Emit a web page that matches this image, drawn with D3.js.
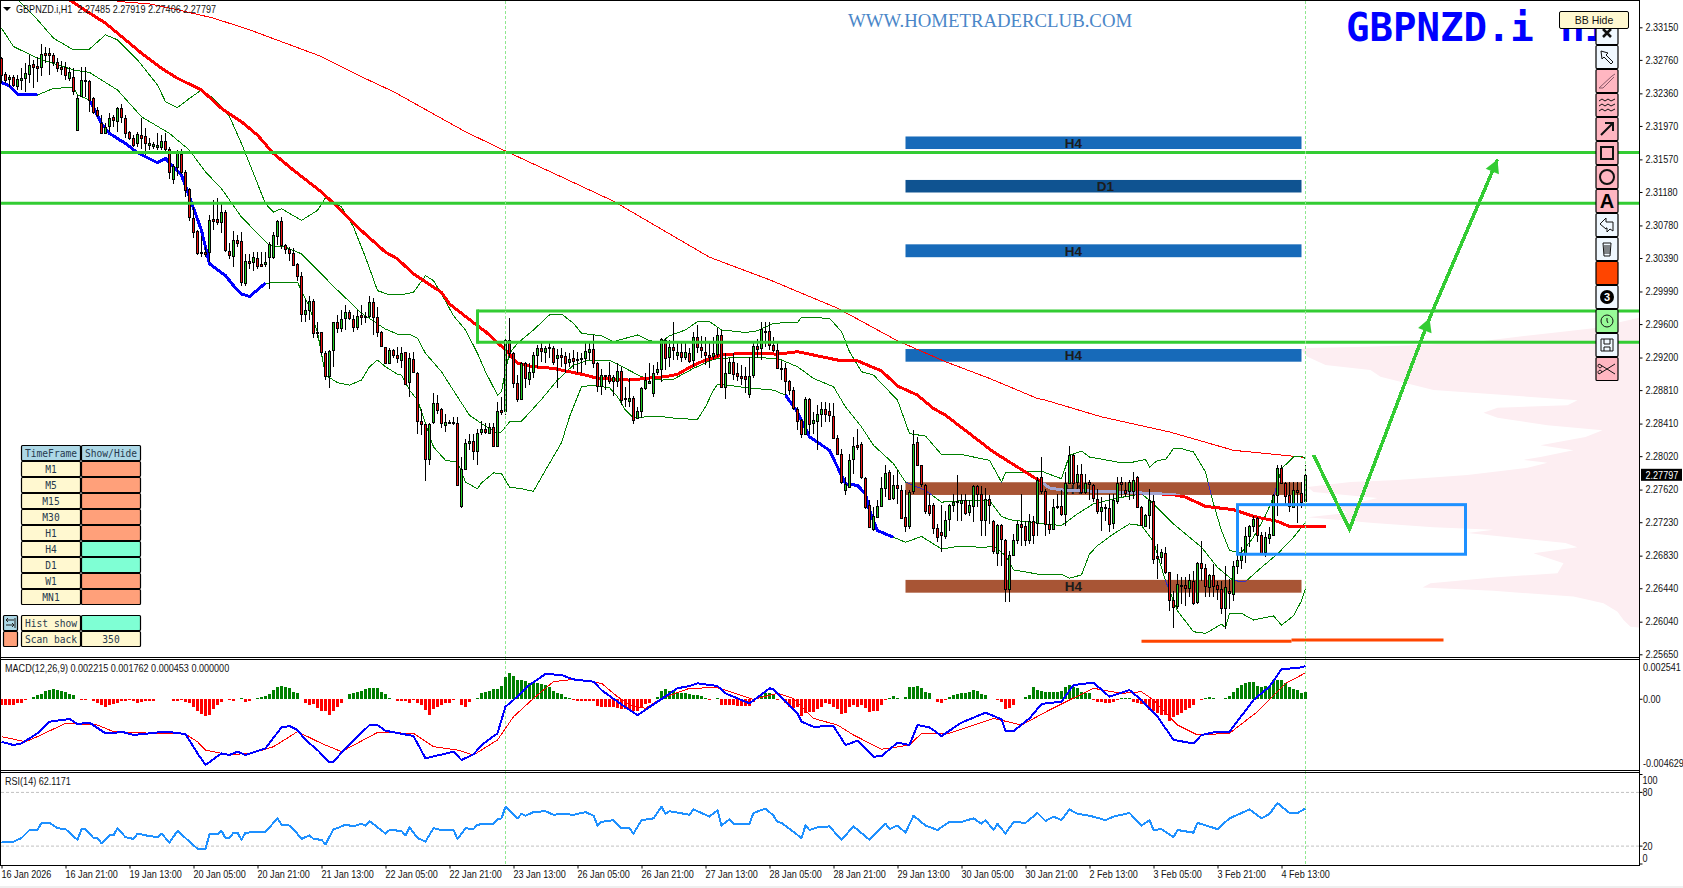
<!DOCTYPE html>
<html>
<head>
<meta charset="utf-8">
<title>GBPNZD.i H1</title>
<script src="https://cdn.jsdelivr.net/npm/d3@7/dist/d3.min.js"></script>
<style>
    html, body { margin: 0; padding: 0; background: #fff; overflow: hidden; }
    text { font-family: "Liberation Sans", sans-serif; font-size: 10.3px; fill: #111; white-space: pre; }
    .mono { font-family: "DejaVu Sans Mono", monospace; font-size: 9.6px; fill: #26394d; }
    .domain { stroke: #000; }
    .tick line { stroke: #000; }
</style>
</head>
<body>
<svg id="chart" width="1683" height="888"></svg>
<script>
// Prices below are kept as (price - 2.2) * 10000
const barOpen = [
    1278,1259,1253,1255,1245,1252,1254,1259,1271,1269,
    1268,1284,1284,1282,1274,1268,1267,1254,1255,1193,
    1233,1252,1251,1230,1216,1201,1189,1196,1208,1203,
    1218,1207,1190,1183,1176,1186,1185,1175,1174,1172,
    1172,1179,1170,1134,1148,1163,1142,1121,1087,1071,
    1046,1046,1046,1086,1086,1082,1094,1047,1042,1061,
    1059,1010,1036,1034,1039,1032,1032,1041,1040,1065,
    1083,1055,1050,1045,1032,1018,972,977,988,950,
    950,926,898,929,962,955,967,974,966,957,
    971,970,969,986,968,950,932,913,929,923,
    918,927,890,918,902,844,841,799,842,865,
    858,840,843,843,842,743,787,818,820,808,
    831,834,830,837,814,857,856,941,925,889,
    870,913,895,903,923,931,926,932,931,920,
    923,922,915,919,918,919,920,927,930,913,
    886,899,899,892,892,904,871,868,872,848,
    855,883,890,878,902,906,941,921,932,923,
    927,921,925,916,944,932,927,923,922,924,
    947,885,902,915,901,898,898,876,899,934,
    931,952,952,935,929,907,907,892,881,859,
    845,828,870,841,844,852,858,856,850,824,
    804,762,766,798,815,816,776,743,715,729,
    743,764,783,751,767,762,729,718,760,819,
    791,767,744,744,716,711,707,726,744,747,
    745,749,735,742,766,757,726,751,724,687,
    720,702,643,684,702,721,718,701,724,722,
    777,760,721,715,741,742,733,770,803,771,
    781,759,771,767,751,736,741,740,722,749,
    771,762,760,761,777,741,719,731,748,682,
    681,686,663,630,623,647,648,644,653,627,
    674,668,646,660,648,643,620,641,638,671,
    678,685,707,719,728,708,687,704,708,756,
    788,770,755,742,761,758,748.5
];
const barHigh = [
    1280,1262,1258,1258,1258,1266,1272,1282,1276,1279,
    1295,1291,1290,1284,1278,1275,1273,1268,1266,1234,
    1267,1268,1252,1232,1220,1210,1201,1212,1210,1220,
    1223,1210,1191,1186,1190,1206,1194,1183,1178,1188,
    1186,1189,1172,1152,1168,1170,1144,1123,1100,1072,
    1065,1052,1090,1108,1111,1104,1096,1057,1071,1066,
    1070,1044,1044,1046,1046,1046,1046,1058,1070,1084,
    1088,1056,1052,1051,1033,1022,990,994,990,962,
    951,928,929,963,971,977,983,977,971,977,
    983,975,993,991,981,952,933,931,930,933,
    933,927,925,927,903,859,841,842,878,875,
    860,853,845,849,849,801,823,829,829,835,
    844,842,842,842,867,873,946,967,927,899,
    915,915,913,927,935,940,934,938,934,930,
    931,927,925,929,927,926,938,937,947,915,
    906,899,915,899,913,909,885,895,874,861,
    885,901,913,911,915,943,943,941,962,937,
    937,937,931,950,959,946,944,937,945,955,
    953,925,919,925,913,911,909,921,939,942,
    962,962,962,945,939,916,913,893,885,861,
    847,873,871,855,863,867,867,866,866,827,
    810,777,805,825,835,819,777,750,741,749,
    777,791,785,779,786,767,761,762,833,825,
    792,769,757,746,721,744,737,745,757,779,
    757,757,749,768,768,766,764,755,726,721,
    721,703,689,709,725,757,725,733,731,777,
    801,763,737,751,757,761,783,814,805,791,
    793,781,773,769,763,753,745,757,757,777,
    777,771,773,783,778,742,733,763,755,697,
    691,693,664,641,661,657,657,661,665,676,
    701,673,661,673,653,653,671,655,677,689,
    693,717,720,731,729,711,711,717,757,791,
    792,771,771,771,771,771,791.9
];
const barLow = [
    1248,1248,1244,1243,1240,1240,1238,1248,1242,1250,
    1257,1272,1258,1269,1262,1258,1252,1251,1234,1192,
    1232,1232,1214,1211,1208,1187,1187,1190,1196,1190,
    1200,1182,1180,1172,1172,1170,1162,1168,1170,1168,
    1168,1166,1134,1127,1137,1140,1112,1083,1063,1043,
    1040,1040,1034,1072,1078,1069,1046,1038,1028,1052,
    1006,1005,1026,1024,1026,1028,1028,1002,1038,1054,
    1050,1044,1036,1030,1012,963,963,965,943,943,
    923,893,884,909,949,950,953,965,951,953,
    959,961,967,947,945,932,912,912,920,913,
    907,887,873,901,829,827,772,792,840,853,
    836,831,840,839,767,740,787,809,797,792,
    827,828,828,813,814,851,851,919,883,867,
    869,884,887,895,907,915,913,919,911,883,
    909,901,909,906,901,901,911,917,907,879,
    875,881,888,874,885,863,861,861,841,847,
    848,881,888,873,899,891,905,909,917,917,
    915,917,913,909,925,919,911,907,917,921,
    884,870,901,893,892,887,877,871,895,919,
    917,933,929,927,906,893,875,875,857,833,
    824,827,829,829,809,837,843,843,823,803,
    769,756,765,781,809,775,739,716,713,728,
    742,753,749,749,745,728,711,715,757,790,
    765,733,731,709,699,687,703,713,735,725,
    725,732,730,723,741,707,707,721,685,671,
    671,627,628,682,697,695,695,697,697,707,
    757,706,709,714,739,731,719,769,768,763,
    757,757,749,747,733,713,725,711,715,745,
    753,753,749,751,740,718,718,715,673,655,
    673,661,617,597,619,625,623,633,624,625,
    653,633,633,633,630,613,595,619,629,661,
    667,674,693,711,699,685,681,697,707,731,
    769,742,735,741,722,740,740.6
];
const barClose = [
    1258,1252,1255,1246,1253,1254,1260,1270,1267,1267,
    1283,1282,1282,1274,1267,1266,1257,1261,1238,1231,
    1252,1251,1228,1213,1210,1189,1196,1206,1204,1218,
    1207,1189,1183,1175,1187,1183,1177,1177,1176,1174,
    1179,1170,1143,1149,1166,1142,1121,1087,1070,1045,
    1045,1044,1084,1084,1082,1094,1048,1042,1061,1057,
    1010,1036,1034,1040,1030,1030,1034,1056,1066,1083,
    1054,1050,1045,1031,1018,973,977,988,950,949,
    926,898,928,962,955,966,974,967,957,970,
    969,969,986,968,950,933,913,929,923,919,
    926,889,919,902,844,841,799,841,865,857,
    841,843,842,842,768,787,818,820,808,830,
    834,830,837,814,856,855,941,925,889,870,
    913,895,903,923,931,927,931,931,914,923,
    921,914,918,915,918,918,928,930,913,886,
    899,898,892,897,904,869,870,872,846,856,
    883,893,892,902,906,942,919,933,928,927,
    921,927,916,944,932,928,923,921,926,947,
    885,902,915,901,898,896,895,898,934,931,
    954,951,935,929,907,906,892,881,859,845,
    828,870,840,845,852,858,852,851,824,805,
    771,769,798,814,813,777,741,717,730,742,
    764,782,751,767,763,729,718,759,816,791,
    768,736,735,716,705,708,726,743,747,748,
    749,734,743,766,757,726,751,744,688,720,
    703,643,684,702,721,717,701,724,707,773,
    760,721,715,741,742,732,770,803,770,781,
    759,770,769,751,737,741,740,721,749,770,
    769,759,771,774,741,719,732,749,679,680,
    687,663,629,622,649,648,644,654,627,674,
    668,647,660,647,643,620,645,639,671,678,
    685,707,719,727,708,686,705,709,756,788,
    770,755,742,762,759,747,779.7
];

// Moving averages and bands, read at the marked bars
const ma200Bars = [29,37,44,53,62,71,80,89,98,107,116,126,140,153,177,192,209,224,236,247,259,261,275,292,308,325,326];
const ma200Vals = [1346,1343,1336,1326,1312,1296,1280,1258,1238,1214,1190,1167,1136,1107,1040,1013,979,940,915,895,871,869,849,831,809,801,800];
const ma50Bars = [17,22,26,31,35,40,44,50,55,60,64,68,73,80,84,89,96,99,103,110,112,119,121,126,129,133,138,141,146,149,157,161,166,169,172,175,180,185,190,194,199,205,209,214,220,224,229,233,236,242,248,259,260,262,266,275,285,293,296,301,308,313,319,322,331];
const ma50Vals = [1348,1332,1320,1300,1284,1266,1254,1240,1218,1202,1186,1164,1144,1118,1100,1076,1046,1038,1020,998,984,958,951,929,913,909,907,904,899,895,893,895,897,900,908,915,923,925,925,924,927,921,917,916,904,886,875,859,851,829,807,774,771,764,761,760,758,756,753,742,738,730,724,718,718];
const upperBars = [4,9,13,18,22,26,29,34,39,41,44,47,50,53,57,60,63,66,68,70,75,79,81,85,88,91,94,97,100,103,106,108,110,113,116,119,121,124,125,126,127,129,133,137,140,143,145,150,153,159,162,165,167,171,174,177,180,186,189,193,199,200,207,210,212,215,218,220,224,227,231,235,240,247,250,251,255,260,265,267,270,272,279,283,286,287,289,291,293,295,298,301,303,305,307,310,313,316,318,320,323,325,326];
const upperVals = [1348,1324,1302,1288,1289,1306,1300,1276,1246,1226,1219,1230,1240,1230,1208,1176,1140,1104,1094,1098,1084,1096,1111,1100,1076,1040,1000,995,995,998,1018,1012,996,970,953,925,903,875,879,905,925,937,953,971,972,961,949,946,939,947,940,939,946,953,963,963,953,950,952,961,962,968,967,951,927,903,899,889,869,829,826,804,804,797,771,782,783,784,775,803,808,801,795,795,798,789,797,798,811,811,807,783,745,713,689,687,705,731,753,787,801,802,799];
const midBars = [0,3,9,18,22,29,35,42,47,51,55,60,67,71,75,80,83,85,90,96,99,102,104,106,110,114,117,120,124,125,127,130,132,135,139,143,147,152,156,160,165,168,173,178,183,187,194,199,203,208,211,215,218,223,226,231,235,241,247,250,252,259,265,269,273,278,285,288,293,300,304,308,311,315,319,323,326];
const midVals = [1314,1292,1278,1264,1261,1240,1208,1188,1168,1142,1122,1088,1054,1052,1044,1020,1005,996,973,954,948,948,943,925,903,873,851,841,829,831,843,844,854,870,893,911,917,917,907,897,893,894,907,918,920,920,919,909,895,885,861,837,815,793,771,761,747,749,749,730,726,722,719,733,745,751,757,745,721,693,669,653,652,669,685,705,723];
const lowerBars = [0,2,4,9,13,18,19,22,25,27,31,34,39,41,45,47,50,52,56,58,60,62,66,74,75,77,79,81,84,87,90,92,94,96,99,100,102,104,108,111,114,116,119,120,123,125,127,130,133,135,140,142,145,148,150,152,154,156,158,164,169,174,176,178,179,183,186,193,196,199,202,207,209,211,214,216,217,219,223,226,230,235,239,246,248,251,253,259,265,267,270,272,274,278,282,285,288,291,294,298,301,305,306,307,310,313,318,320,323,325,326];
const lowerVals = [1249,1245,1235,1234,1242,1243,1234,1228,1200,1188,1176,1165,1153,1158,1138,1112,1072,1032,1018,1006,996,993,1009,1010,1000,980,950,899,890,887,893,909,917,909,900,899,881,869,813,797,795,771,763,770,782,781,765,763,760,777,818,849,885,887,885,884,873,857,848,850,847,846,861,881,888,886,884,881,875,855,825,809,789,769,767,757,737,713,705,699,706,691,694,693,695,683,666,661,661,656,660,685,695,709,721,719,700,653,617,592,590,601,597,614,614,606,611,600,611,629,644];
const lowerBlueSpans = [[0, 9], [22, 66], [196, 223]];

// Drawn objects on the main chart
const zoneTop = [1184.4, 1132.4, 1055.4, 930.2, 770.8, 654];
const zoneBottom = [1169.4, 1117.4, 1040, 915, 755.6, 638.7];
const zoneName = ['H4', 'D1', 'H4', 'H4', 'H4', 'H4'];
const zoneKind = ['blue', 'navy', 'blue', 'blue', 'brown', 'brown'];
const zoneLabelBar = [268, 276, 268, 268, 268, 268];
const greenLevels = [1165.3, 1104.5];
const greenBoxLevels = [975.7, 938.2];
const blueBoxLevels = [744, 684.7];
const lowLineBars = [285, 322.5, 360.5];
const lowLineVals = [580.6, 582.2];
const arrowBars = [328, 337, 357, 374];
const arrowVals = [803.4, 714.6, 966.9, 1157];

// Volume profile on the right side
const profileLevel = [967.6,955,947,939,935,933,931.4,930,921,911,905,897,881,869,863,860,854,848,839,833,825,815,809,801,797.5,794,788,779.5,773.5,771,765,759,752,741,734,729,722,717,714,710,698,693,686,674,662,657,650,645,641,634,626,616,606,598,597];
const profileVolume = [0,46,106,162,219,272,332,339,332,314,269,259,206,62,72,142,156,142,92,37,54,99,66,99,116,92,112,172,242,289,332,326,262,302,292,332,266,206,146,172,74,62,106,76,82,146,209,217,146,66,36,22,16,9,0];

// MACD values are in 1e-5 units
const macdHist = [
    -37,-37,-37,-37,-26,-22,-4,2,18,26,
    37,57,64,66,62,57,51,37,29,4,
    -7,-4,2,-9,-26,-37,-48,-37,-33,-22,
    -11,-11,-4,-11,-22,-15,-11,-9,-9,2,
    4,4,2,-11,-11,-4,-15,-26,-48,-81,
    -99,-108,-103,-66,-37,-15,1,-4,-9,1,
    11,-15,-9,1,11,18,24,35,62,84,
    88,79,77,51,44,2,-26,-37,-33,-59,
    -75,-81,-103,-81,-48,-22,1,35,44,51,
    57,66,73,75,75,51,35,7,1,-9,
    -9,-9,-22,-4,-22,-37,-70,-103,-66,-48,
    -37,-26,-26,-4,1,-37,-48,-15,1,7,
    40,51,57,66,66,88,145,176,154,128,
    128,123,106,106,110,101,92,84,57,44,
    35,18,7,-4,-9,-9,-9,-9,-9,-44,
    -48,-53,-53,-53,-59,-66,-66,-70,-75,-81,
    -53,-33,-26,1,18,57,66,57,55,44,
    40,40,35,29,29,24,7,-4,1,7,
    -37,-37,-37,-37,-42,-42,-42,-44,-20,1,
    22,44,40,35,-4,1,-26,-53,-59,-53,
    -110,-92,-86,-84,-66,-48,-26,-31,-48,-66,
    -97,-92,-53,-37,-53,-37,-59,-84,-81,-75,
    -37,-2,7,22,11,1,18,79,84,88,
    77,51,44,1,-15,-22,-4,18,29,35,
    40,40,51,62,55,33,29,1,1,-4,
    -15,-62,-59,-37,1,4,13,29,79,62,
    57,51,51,51,51,57,84,95,84,73,
    51,40,40,-4,-15,-15,-26,-26,-20,-4,
    7,7,11,-15,-26,-31,-31,-70,-81,-92,
    -103,-103,-141,-119,-103,-88,-70,-59,-37,1,
    -2,7,15,11,2,1,11,22,51,73,
    95,110,117,114,88,81,88,84,128,128,
    128,106,80,70,62,40,45
];
const macdMainBars = [0,3,5,9,12,17,19,22,26,28,30,33,41,46,49,51,55,57,59,61,66,70,72,74,76,79,82,83,86,92,94,96,103,106,113,115,118,120,124,126,128,132,136,140,143,148,150,154,159,164,169,172,174,179,181,187,192,193,199,200,203,208,211,214,218,220,224,227,229,232,235,240,246,250,251,253,257,260,265,268,273,277,282,285,289,293,298,300,304,307,313,317,320,325,326];
const macdMainVals = [-282,-304,-293,-226,-149,-131,-164,-155,-226,-226,-215,-237,-215,-231,-359,-436,-359,-370,-348,-370,-326,-186,-178,-204,-270,-337,-419,-414,-326,-171,-171,-209,-244,-392,-348,-403,-366,-304,-226,-49,-5,95,168,161,132,117,61,-16,-105,-16,73,88,106,88,39,-27,73,66,-93,-149,-182,-178,-304,-275,-381,-377,-288,-304,-171,-186,-244,-155,-89,-133,-211,-211,-127,-31,-16,95,110,17,61,-5,-115,-270,-293,-237,-215,-215,-5,84,199,212,221];
const macdSignalBars = [0,6,9,16,24,28,38,46,49,51,57,63,68,74,80,85,94,103,108,114,118,124,128,133,138,143,150,154,157,161,165,172,179,188,194,198,203,209,213,220,227,230,237,248,255,262,267,273,280,285,288,294,299,307,314,321,325,326];
const macdSignalVals = [-248,-282,-248,-160,-171,-215,-226,-231,-282,-337,-370,-355,-315,-215,-293,-348,-220,-226,-315,-337,-370,-270,-116,6,117,132,106,17,-38,-60,6,73,77,-1,39,6,-127,-171,-237,-332,-304,-226,-226,-127,-171,-71,-5,73,39,50,-5,-171,-237,-226,-82,106,161,176];
const macdAxisLabels = ['0.002541', '0.00', '-0.004629'];

const rsiBars = [0,3,5,7,9,10,12,14,16,17,19,20,21,23,24,25,27,28,29,31,33,34,36,39,40,42,44,47,49,51,52,54,55,56,57,58,59,60,61,66,69,70,72,73,75,77,78,80,81,83,84,86,88,90,91,92,96,97,100,101,102,104,106,108,110,113,114,116,118,119,123,124,125,126,127,129,130,131,133,136,138,140,143,146,148,149,150,153,155,157,158,160,163,165,166,167,172,173,175,177,179,180,182,183,187,188,191,193,194,195,200,201,202,204,207,210,213,217,221,222,224,226,228,231,234,237,240,243,245,246,248,249,251,253,256,259,261,263,265,267,269,272,276,278,280,282,285,287,288,290,293,294,298,299,304,307,312,315,317,319,322,324,326];
const rsiVals = [24,25,29,38,38,46,46,40,39,35,27,39,39,29,29,23,32,32,40,30,28,34,32,30,34,24,37,25,17,17,33,33,37,29,29,35,35,27,35,36,51,44,43,39,28,32,28,27,22,39,40,44,42,45,43,48,34,38,37,32,41,29,25,40,38,38,28,40,39,44,45,50,51,64,60,51,56,54,58,59,55,56,55,58,54,43,47,49,40,40,34,49,51,64,56,59,55,61,57,53,60,43,50,45,45,57,62,54,47,46,29,43,38,41,42,27,42,27,45,39,43,35,54,43,38,47,47,51,45,49,38,45,34,47,46,57,48,53,49,61,56,54,49,53,55,57,43,49,38,39,30,38,35,46,39,51,61,51,56,68,57,57,62];
const rsiLevels = [80, 20];
const rsiAxisLabels = [100, 80, 20, 0];

// Axis labels
const priceTicks = [2.3315,2.3276,2.3236,2.3197,2.3157,2.3118,2.3078,2.3039,2.2999,2.2960,2.2920,2.2881,2.2841,2.2802,2.2762,2.2723,2.2683,2.2644,2.2604,2.2565];
const lastPrice = 2.27797;
const timeLabels = ['16 Jan 2026','16 Jan 21:00','19 Jan 13:00','20 Jan 05:00','20 Jan 21:00','21 Jan 13:00','22 Jan 05:00','22 Jan 21:00','23 Jan 13:00','26 Jan 05:00','26 Jan 21:00','27 Jan 13:00','28 Jan 05:00','28 Jan 21:00','29 Jan 13:00','30 Jan 05:00','30 Jan 21:00','2 Feb 13:00','3 Feb 05:00','3 Feb 21:00','4 Feb 13:00'];
const timeBarStep = 16;
const sessionBars = [126, 326];

// Timeframe panel
const panelFrames = ['M1','M5','M15','M30','H1','H4','D1','W1','MN1'];
const panelShown = [0,0,0,0,0,1,1,0,0];
const toolKinds = ['close','cursor','pencil','waves','arrow','square','circle','letter','undo','trash','color','number','clock','save','scissors'];

const toPrice = v => 2.2 + v / 10000;
const plotRight = 1639.5;

const svg = d3.select('#chart');
svg.append('rect').attr('width', 1683).attr('height', 888).attr('fill', '#fff');
svg.append('rect').attr('y', 886).attr('width', 1683).attr('height', 2).attr('fill', '#efefef');

const xBar = d3.scaleLinear().domain([0, 326]).range([1.5, 1305.5]);
const yPrice = d3.scaleLinear().domain([2.3315, 2.2565]).range([27.3, 654.3]);
const yMacd = d3.scaleLinear().domain([-462.9, 254.1]).range([769, 661]);
const yRsi = d3.scaleLinear().domain([0, 100]).range([864, 774.5]);
const xProfile = d3.scaleLinear().domain([0, 339]).range([plotRight, plotRight - 339]);

const defs = svg.append('defs');
function addClip(id, x, y, w, h) {
    defs.append('clipPath').attr('id', id).append('rect').attr('x', x).attr('y', y).attr('width', w).attr('height', h);
}
addClip('clipMain', 1, 1, 1638, 656);
addClip('clipMacd', 1, 660, 1638, 110);
addClip('clipRsi', 1, 773, 1638, 92);

const main = svg.append('g').attr('clip-path', 'url(#clipMain)');

function priceLine(bars, vals) {
    const line = d3.line().x(d => xBar(d[0])).y(d => yPrice(toPrice(d[1])));
    return line(bars.map((b, i) => [b, vals[i]]));
}

// The terminal draws without smoothing, so lines stay aliased here too
function drawPath(parent, d, color, width) {
    return parent.append('path').attr('d', d).attr('fill', 'none').attr('stroke', color).attr('stroke-width', width)
        .attr('stroke-linejoin', 'round').attr('shape-rendering', 'crispEdges');
}

// Volume profile
const profileArea = d3.area()
    .y(d => yPrice(toPrice(d[0])))
    .x0(xProfile(0))
    .x1(d => xProfile(d[1]));
main.append('path')
    .attr('d', profileArea(profileLevel.map((p, i) => [p, profileVolume[i]])))
    .attr('fill', '#fdeef2');

// Session separators
sessionBars.forEach(b => {
    svg.append('line').attr('x1', xBar(b)).attr('x2', xBar(b)).attr('y1', 1).attr('y2', 865)
        .attr('stroke', '#8fe88f').attr('stroke-dasharray', '3,2');
});

// Zones
const zoneColors = { blue: '#176ab9', navy: '#0f5391', brown: '#a85535' };
const zoneRect = (sel) => sel
    .attr('x', xBar(226))
    .attr('width', xBar(325) - xBar(226))
    .attr('y', i => yPrice(toPrice(zoneTop[i])))
    .attr('height', i => yPrice(toPrice(zoneBottom[i])) - yPrice(toPrice(zoneTop[i])));
main.selectAll('rect.zone').data(d3.range(zoneTop.length)).join('rect').attr('class', 'zone')
    .call(zoneRect)
    .attr('fill', i => zoneColors[zoneKind[i]]);
main.selectAll('text.zone').data(d3.range(zoneTop.length)).join('text').attr('class', 'zone')
    .attr('x', i => xBar(zoneLabelBar[i]))
    .attr('y', i => (yPrice(toPrice(zoneTop[i])) + yPrice(toPrice(zoneBottom[i]))) / 2 + 5)
    .attr('text-anchor', 'middle')
    .style('font-family', '"Liberation Sans", sans-serif').style('font-weight', 'bold').style('font-size', '13.5px').style('fill', '#1c1c1c')
    .text(i => zoneName[i]);

const brownClip = defs.append('clipPath').attr('id', 'clipBrown');
brownClip.selectAll('rect').data(d3.range(zoneTop.length).filter(i => zoneKind[i] == 'brown')).join('rect').call(zoneRect);

// Indicators on the main chart
const ma200Path = priceLine(ma200Bars, ma200Vals);
const ma50Path = priceLine(ma50Bars, ma50Vals);
const bandPaths = [priceLine(upperBars, upperVals), priceLine(midBars, midVals), priceLine(lowerBars, lowerVals)];
drawPath(main, ma200Path, '#ff0000', 1);
bandPaths.forEach(d => drawPath(main, d, '#008000', 1));
drawPath(main, ma50Path, '#ff0000', 3);
lowerBlueSpans.forEach(span => {
    const keep = lowerBars.map((b, i) => i).filter(i => lowerBars[i] >= span[0] && lowerBars[i] <= span[1]);
    drawPath(main, priceLine(keep.map(i => lowerBars[i]), keep.map(i => lowerVals[i])), '#0000ff', 3);
});

// Inside the brown zones the line colours turn, as the rectangle is blended with them
const inBrown = main.append('g').attr('clip-path', 'url(#clipBrown)');
bandPaths.forEach(d => drawPath(inBrown, d, '#3a2fc0', 1));
drawPath(inBrown, ma50Path, '#a3a5d0', 3);

// Candles
const candles = main.append('g');
const bars = d3.range(barOpen.length);
candles.selectAll('line').data(bars).join('line')
    .attr('x1', i => xBar(i)).attr('x2', i => xBar(i))
    .attr('y1', i => yPrice(toPrice(barHigh[i])))
    .attr('y2', i => yPrice(toPrice(barLow[i])))
    .attr('stroke', '#000').attr('shape-rendering', 'crispEdges');
candles.selectAll('rect').data(bars).join('rect')
    .attr('x', i => xBar(i) - 1)
    .attr('width', 2)
    .attr('y', i => Math.round(yPrice(toPrice(Math.max(barOpen[i], barClose[i])))) + 0.5)
    .attr('height', i => Math.max(1, Math.round(Math.abs(barOpen[i] - barClose[i]) / 1.196)))
    .attr('fill', i => barClose[i] >= barOpen[i] ? '#22cc22' : '#ee1111')
    .attr('stroke', '#000').attr('shape-rendering', 'crispEdges');

// Objects above the candles
const lime = '#33cc33';
greenLevels.concat(greenBoxLevels).forEach(v => {
    const left = greenBoxLevels.includes(v) ? xBar(119) : 1;
    main.append('line').attr('x1', left).attr('x2', plotRight)
        .attr('y1', yPrice(toPrice(v))).attr('y2', yPrice(toPrice(v)))
        .attr('stroke', lime).attr('stroke-width', 3);
});
main.append('line').attr('x1', xBar(119)).attr('x2', xBar(119))
    .attr('y1', yPrice(toPrice(greenBoxLevels[0])) - 1.5).attr('y2', yPrice(toPrice(greenBoxLevels[1])) + 1.5)
    .attr('stroke', lime).attr('stroke-width', 3);

main.append('rect')
    .attr('x', xBar(309)).attr('width', xBar(366) - xBar(309))
    .attr('y', yPrice(toPrice(blueBoxLevels[0]))).attr('height', yPrice(toPrice(blueBoxLevels[1])) - yPrice(toPrice(blueBoxLevels[0])))
    .attr('fill', 'none').attr('stroke', '#1e90ff').attr('stroke-width', 3);

for (let i = 0; i < lowLineVals.length; i++) {
    main.append('line')
        .attr('x1', xBar(lowLineBars[i])).attr('x2', xBar(lowLineBars[i + 1]))
        .attr('y1', yPrice(toPrice(lowLineVals[i]))).attr('y2', yPrice(toPrice(lowLineVals[i])))
        .attr('stroke', '#ff4500').attr('stroke-width', 3);
}

drawPath(main, priceLine(arrowBars, arrowVals), lime, 3.5).attr('stroke-linejoin', 'miter');
[2, 3].forEach(k => {
    const tipX = xBar(arrowBars[k]), tipY = yPrice(toPrice(arrowVals[k]));
    const a = Math.atan2(yPrice(toPrice(arrowVals[k - 1])) - tipY, xBar(arrowBars[k - 1]) - tipX);
    const size = 15, spread = 0.5;
    const head = [[tipX, tipY],
        [tipX + size * Math.cos(a - spread), tipY + size * Math.sin(a - spread)],
        [tipX + size * Math.cos(a + spread), tipY + size * Math.sin(a + spread)]];
    main.append('polygon').attr('points', head.join(' ')).attr('fill', lime);
});

// Texts on the main chart
svg.append('path').attr('d', 'M3,7 L11,7 L7,11 Z').attr('fill', '#000');
svg.append('text').attr('x', 16).attr('y', 13).text('GBPNZD.i,H1  2.27485 2.27919 2.27406 2.27797');
svg.append('text').attr('x', 848).attr('y', 27)
    .style('font-family', '"Liberation Serif", serif').style('font-size', '18.8px').style('fill', '#4a86c8')
    .text('WWW.HOMETRADERCLUB.COM');
const bigTitle = svg.append('text').attr('x', 1346).attr('y', 41)
    .style('font-family', '"DejaVu Sans Mono", monospace').style('font-weight', 'bold').style('font-size', '39px').style('fill', '#0000ff');
bigTitle.append('tspan').text('GBPNZD.i');
bigTitle.append('tspan').attr('dx', 27).text('H1');

// Panel separators
[657.5, 659.5, 770.5, 772.5, 865.5].forEach(y => {
    svg.append('line').attr('x1', 1).attr('x2', plotRight).attr('y1', y).attr('y2', y).attr('stroke', '#000');
});
svg.append('line').attr('x1', 0.5).attr('x2', plotRight).attr('y1', 0.5).attr('y2', 0.5).attr('stroke', '#000');
svg.append('line').attr('x1', 0.5).attr('x2', 0.5).attr('y1', 0).attr('y2', 866).attr('stroke', '#000');

// Price axis
const priceAxis = d3.axisRight(yPrice).tickValues(priceTicks).tickFormat(d3.format('.5f')).tickSize(3).tickPadding(3);
svg.append('g').attr('transform', `translate(${plotRight},0)`).call(priceAxis)
    .call(g => g.select('.domain').remove())
    .call(g => g.selectAll('text').style('font-family', null).style('font-size', null));
svg.append('line').attr('x1', plotRight).attr('x2', plotRight).attr('y1', 0).attr('y2', 866).attr('stroke', '#000');
svg.append('rect').attr('x', 1641).attr('y', yPrice(lastPrice) - 6).attr('width', 41).attr('height', 12).attr('fill', '#000');
svg.append('text').attr('x', 1645.5).attr('y', yPrice(lastPrice) + 4).style('fill', '#fff').text(d3.format('.5f')(lastPrice));

// MACD
const macdG = svg.append('g').attr('clip-path', 'url(#clipMacd)');
macdG.selectAll('rect').data(macdHist).join('rect')
    .attr('x', (d, i) => xBar(i) - 1.5)
    .attr('width', 3)
    .attr('y', d => Math.min(yMacd(d), yMacd(0)))
    .attr('height', d => Math.abs(yMacd(d) - yMacd(0)))
    .attr('fill', d => d >= 0 ? '#008000' : '#ff0000')
    .attr('shape-rendering', 'crispEdges');
const macdLine = d3.line().x(d => xBar(d[0])).y(d => yMacd(d[1]));
drawPath(macdG, macdLine(macdSignalBars.map((b, i) => [b, macdSignalVals[i]])), '#ff0000', 1);
drawPath(macdG, macdLine(macdMainBars.map((b, i) => [b, macdMainVals[i]])), '#0000ff', 2);
svg.append('text').attr('x', 5).attr('y', 672).text('MACD(12,26,9) 0.002215 0.001762 0.000453 0.000000');
[[1643, 670.5], [1643, 703], [1643, 767]].forEach((p, i) => {
    svg.append('text').attr('x', p[0]).attr('y', p[1]).text(macdAxisLabels[i]);
});
svg.append('line').attr('x1', plotRight).attr('x2', plotRight + 3).attr('y1', yMacd(0)).attr('y2', yMacd(0)).attr('stroke', '#000');

// RSI
const rsiG = svg.append('g').attr('clip-path', 'url(#clipRsi)');
rsiLevels.forEach(l => {
    rsiG.append('line').attr('x1', 1).attr('x2', plotRight).attr('y1', yRsi(l)).attr('y2', yRsi(l))
        .attr('stroke', '#c0c0c0').attr('stroke-dasharray', '3,2');
});
const rsiLine = d3.line().x(d => xBar(d[0])).y(d => yRsi(d[1]));
drawPath(rsiG, rsiLine(rsiBars.map((b, i) => [b, rsiVals[i]])), '#1e90ff', 2);
svg.append('text').attr('x', 5).attr('y', 785).text('RSI(14) 62.1171');
rsiAxisLabels.forEach(l => {
    const offset = l == 100 ? 9 : l == 0 ? -2 : 4;
    svg.append('text').attr('x', 1642.5).attr('y', yRsi(l) + offset).text(l);
    svg.append('line').attr('x1', plotRight).attr('x2', plotRight + 3).attr('y1', yRsi(l)).attr('y2', yRsi(l)).attr('stroke', '#000');
});

// Time axis
const timeAxis = d3.axisBottom(xBar)
    .tickValues(timeLabels.map((t, i) => i * timeBarStep))
    .tickFormat((d, i) => timeLabels[i])
    .tickSize(3).tickPadding(2);
svg.append('g').attr('transform', 'translate(0,865.5)').call(timeAxis)
    .call(g => g.select('.domain').remove())
    .call(g => g.selectAll('text').attr('text-anchor', 'start').attr('dx', -0.5).style('font-family', null).style('font-size', null));

// Timeframe panel
function cell(x, y, w, h, fill, label, cls) {
    svg.append('rect').attr('x', x + 0.5).attr('y', y + 0.5).attr('width', w).attr('height', h).attr('rx', 1)
        .attr('fill', fill).attr('stroke', '#000').attr('stroke-width', 1.2);
    if (label) {
        svg.append('text').attr('class', cls || 'mono').attr('x', x + w / 2 + 0.5).attr('y', y + h / 2 + 4)
            .attr('text-anchor', 'middle').text(label);
    }
}
const shownColors = ['#ffa07a', '#7fffd4'];
cell(21, 445, 59, 15, '#add8e6', 'TimeFrame');
cell(81, 445, 59, 15, '#add8e6', 'Show/Hide');
panelFrames.forEach((f, i) => {
    cell(21, 461 + i * 16, 59, 15, '#fff8d0', f);
    cell(81, 461 + i * 16, 59, 15, shownColors[panelShown[i]]);
});
cell(21, 615, 59, 15, '#fff8d0', 'Hist show');
cell(81, 615, 59, 15, shownColors[1]);
cell(21, 631, 59, 15, '#fff8d0', 'Scan back');
cell(81, 631, 59, 15, '#fff8d0', '350');
cell(3, 615, 14, 15, '#add8e6');
svg.append('path').attr('d', 'M6,620 H14 M6,620 L8,618 M6,620 L8,622 M14,625 H6 M14,625 L12,623 M14,625 L12,627 M15,618 V628')
    .attr('stroke', '#222').attr('fill', 'none');
cell(3, 631, 14, 15, '#ffa07a');

// Tool bar
const toolFill = { pencil: '#ffb6c1', waves: '#ffb6c1', arrow: '#ffb6c1', square: '#ffb6c1', circle: '#ffb6c1', letter: '#ffb6c1', scissors: '#ffb6c1', color: '#ff4500', clock: '#98fb98' };
const toolIcon = {
    close: 'M-4,-4 L4,4 M4,-4 L-4,4',
    cursor: 'M-6,-6 L1,-4 L-1,-2 L6,5 L4,7 L-3,0 L-5,2 Z',
    pencil: 'M-8,7 L5,-5 L8,-7 M-8,7 L-4,7 L7,-4',
    waves: 'M-8,-4 L-5,-6 L-2,-4 L1,-6 L4,-4 L8,-6 M-8,1 L-5,-1 L-2,1 L1,-1 L4,1 L8,-1 M-8,6 L-5,4 L-2,6 L1,4 L4,6 L8,4',
    arrow: 'M-6,6 L6,-6 M-2,-6 L6,-6 L6,2',
    square: 'M-6,-6 H6 V6 H-6 Z',
    circle: 'M-7,0 A7,7 0 1,0 7,0 A7,7 0 1,0 -7,0',
    undo: 'M-7,-1 L-1,-7 L-1,-3 L6,-3 L6,6 L3,4 L0,7 L0,3 L-1,3 L-1,4 Z',
    trash: 'M-4,-6 H4 L3,7 H-3 Z M-2,-4 V5 M0,-4 V5 M2,-4 V5',
    clock: 'M-6,0 A6,6 0 1,0 6,0 A6,6 0 1,0 -6,0 M0,-3 V0 L1,2',
    save: 'M-6,-6 H6 V6 H-6 Z M-3,-6 V-1 H3 V-6 M-3,6 V2 H3 V6',
    scissors: 'M-8,-5 L8,5 M-8,5 L8,-5 M-8,-5 a2,2 0 1,0 3,2 M-8,5 a2,2 0 1,1 3,-2'
};
const toolStroke = { arrow: 2, square: 2, circle: 2, close: 2.5 };
toolKinds.forEach((kind, i) => {
    const cy = 33 + i * 24;
    svg.append('rect').attr('x', 1596).attr('y', cy - 11.5).attr('width', 22).attr('height', 23).attr('rx', 1)
        .attr('fill', toolFill[kind] || '#f0f8ff').attr('stroke', '#000').attr('stroke-width', 1.2);
    if (toolIcon[kind]) {
        svg.append('path').attr('transform', `translate(1607,${cy})`).attr('d', toolIcon[kind])
            .attr('fill', 'none').attr('stroke', kind == 'pencil' ? '#8a5a6a' : '#111').attr('stroke-width', toolStroke[kind] || 1);
    }
    if (kind == 'letter') {
        svg.append('text').attr('x', 1607).attr('y', cy + 7).attr('text-anchor', 'middle')
            .style('font-family', '"Liberation Sans", sans-serif').style('font-weight', 'bold').style('font-size', '20px').style('fill', '#000').text('A');
    }
    if (kind == 'number') {
        svg.append('circle').attr('cx', 1607).attr('cy', cy).attr('r', 7).attr('fill', '#000');
        svg.append('text').attr('x', 1607).attr('y', cy + 4).attr('text-anchor', 'middle')
            .style('font-family', '"Liberation Sans", sans-serif').style('font-weight', 'bold').style('font-size', '11px').style('fill', '#fff').text('3');
    }
});

// BB button
svg.append('rect').attr('x', 1559.5).attr('y', 11.5).attr('width', 69).attr('height', 17).attr('rx', 1.5)
    .attr('fill', '#fff8d0').attr('stroke', '#000');
svg.append('text').attr('x', 1594).attr('y', 24).attr('text-anchor', 'middle')
    .style('font-family', '"Liberation Sans", sans-serif').style('font-size', '10.5px').text('BB Hide');

// Terminal labels are narrower than the installed sans, squeeze them to the same width
svg.selectAll('text')
    .filter(function () { return !this.style.fontFamily && !this.classList.contains('mono'); })
    .each(function () {
        d3.select(this).attr('textLength', this.getComputedTextLength() * 0.88).attr('lengthAdjust', 'spacingAndGlyphs');
    });
</script>
</body>
</html>
